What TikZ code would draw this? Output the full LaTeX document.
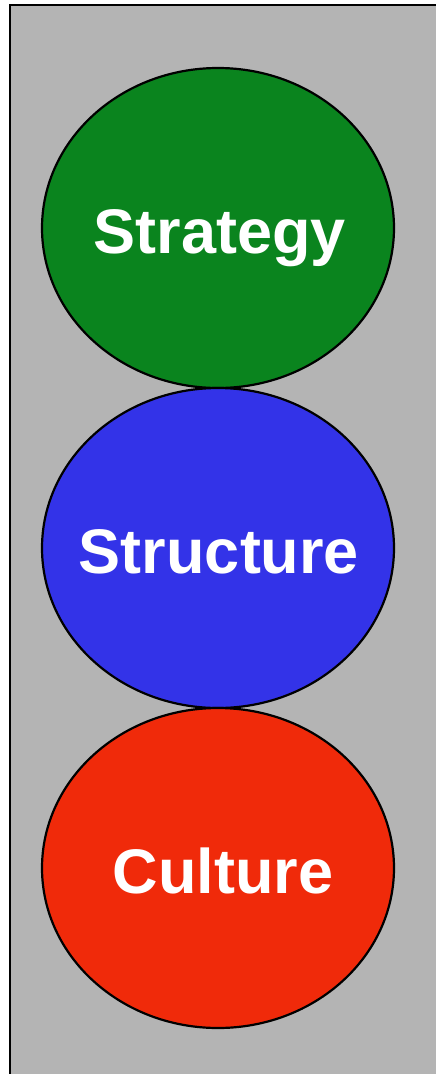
\documentclass[tikz,border=0pt]{standalone}
\usepackage{fontspec}
\setmainfont{Liberation Sans}
\usetikzlibrary{shapes.geometric}

\definecolor{framegray}{RGB}{180,180,180}
\definecolor{stratgreen}{RGB}{10,132,30}
\definecolor{structblue}{RGB}{51,51,232}
\definecolor{culturered}{RGB}{240,42,10}

\tikzset{
  blob/.style={ellipse,draw=black,line width=2.2pt,minimum width=352pt,minimum height=320pt,inner sep=0pt},
  word/.style={anchor=base,text=white,font=\fontsize{63}{63}\selectfont\bfseries,inner sep=0pt}
}

\begin{document}
\begin{tikzpicture}[x=1pt,y=-1pt]
    \useasboundingbox (0,0) rectangle (436,1074);
    \draw [fill=framegray,line width=2.4pt] (10,5) rectangle (450,1090);
    \node[blob,fill=stratgreen] (strategy) at (218,228) {};
    \node[blob,fill=structblue] (structure) at (218,548) {};
    \node[blob,fill=culturered] (culture) at (218,868) {};
    \node[word] (stratlbl) at (220,253) {Strategy};
    \node[word] (structlbl) at (219,573) {Structure};
    \node[word] (culturelbl) at (223,893) {Culture};
\end{tikzpicture}
\end{document}
